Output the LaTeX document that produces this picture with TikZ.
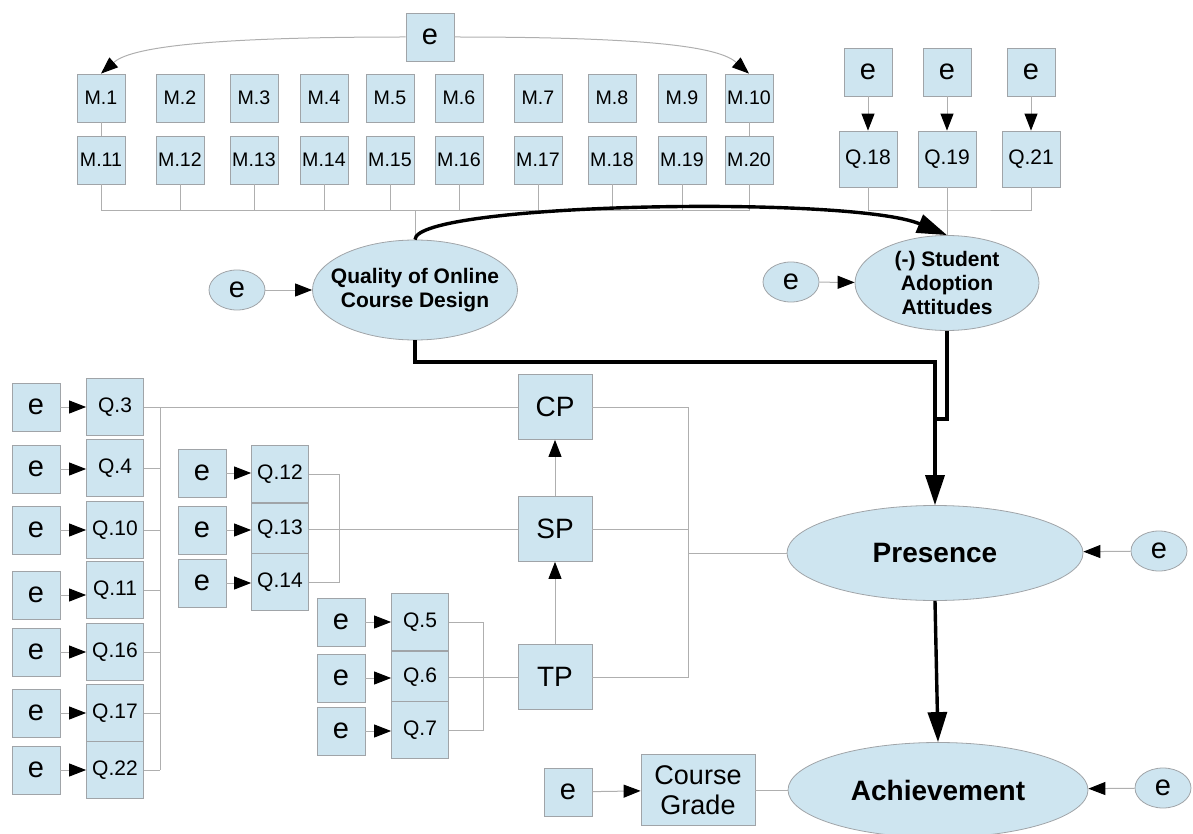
\documentclass[tikz,border=0pt]{standalone}
\usepackage{fontspec}
\setmainfont{Liberation Sans}
\usepackage{tikz}
\usetikzlibrary{shapes,arrows.meta,positioning,calc}

\definecolor{boxfill}{RGB}{206,229,240}
\definecolor{boxline}{RGB}{160,164,168}
\definecolor{linkgray}{RGB}{175,175,175}

\begin{document}
\begin{tikzpicture}[
        x=0.5pt, y=-0.5pt,
        % Block styles
        mvar/.style={
            rectangle,
            draw=boxline,
            fill=boxfill,
            inner sep=0pt,
            minimum width=24pt,
            minimum height=24pt,
            font=\fontsize{9.8}{11}\selectfont
        },
        qvar/.style={
            mvar,
            minimum width=28.5pt,
            minimum height=28.5pt,
            font=\fontsize{10.5}{12}\selectfont
        },
        err/.style={
            mvar,
            font=\fontsize{14.5}{16}\selectfont
        },
        errell/.style={
            ellipse,
            draw=boxline,
            fill=boxfill,
            inner sep=0pt,
            minimum width=28pt,
            minimum height=20pt,
            font=\fontsize{14.5}{16}\selectfont
        },
        factor/.style={
            mvar,
            minimum width=37pt,
            minimum height=32.5pt,
            font=\fontsize{14}{16}\selectfont
        },
        latent/.style={
            ellipse,
            draw=boxline,
            fill=boxfill,
            inner sep=0pt,
            font=\bfseries\fontsize{14}{16}\selectfont
        },
        lbl/.style={align=center, font=\bfseries\fontsize{10.5}{11.8}\selectfont},
        link/.style={draw=linkgray, line width=0.5pt},
        arr/.style={link, -{Triangle[length=8.5pt, width=6.5pt, color=black]}},
        bigline/.style={draw=black, line width=1.7pt},
        bigarr/.style={bigline, -{Triangle[length=15pt, width=9.5pt]}}
    ]
    \useasboundingbox (0,0) rectangle (1193,834);

    % Course design items
    \node[err] (etop) at (430,37) {e};
    \node[mvar] (m1) at (101,98) {M.1};
    \node[mvar] (m2) at (180,98) {M.2};
    \node[mvar] (m3) at (254,98) {M.3};
    \node[mvar] (m4) at (324,98) {M.4};
    \node[mvar] (m5) at (390,98) {M.5};
    \node[mvar] (m6) at (459,98) {M.6};
    \node[mvar] (m7) at (538,98) {M.7};
    \node[mvar] (m8) at (612,98) {M.8};
    \node[mvar] (m9) at (682,98) {M.9};
    \node[mvar] (m10) at (749,98) {M.10};
    \node[mvar] (m11) at (101,160) {M.11};
    \node[mvar] (m12) at (180,160) {M.12};
    \node[mvar] (m13) at (254,160) {M.13};
    \node[mvar] (m14) at (324,160) {M.14};
    \node[mvar] (m15) at (390,160) {M.15};
    \node[mvar] (m16) at (459,160) {M.16};
    \node[mvar] (m17) at (538,160) {M.17};
    \node[mvar] (m18) at (612,160) {M.18};
    \node[mvar] (m19) at (682,160) {M.19};
    \node[mvar] (m20) at (749,160) {M.20};
    \coordinate (mbus) at (415,211);

    % Attitude items
    \node[err] (e18) at (868,72) {e};
    \node[err] (e19) at (947,72) {e};
    \node[err] (e21) at (1031,72) {e};
    \node[qvar, minimum width=29pt, minimum height=28pt] (q18) at (868,159) {Q.18};
    \node[qvar, minimum width=29pt, minimum height=28pt] (q19) at (947,159) {Q.19};
    \node[qvar, minimum width=29pt, minimum height=28pt] (q21) at (1031,159) {Q.21};
    \coordinate (qbus) at (947,211);

    % Latent variables
    \node[latent, minimum width=102.5pt, minimum height=50pt,
        label={[lbl]center:Quality of Online\\Course Design}] (qocd) at (415,290) {};
    \node[errell] (eqocd) at (237,290) {e};
    \node[latent, minimum width=92pt, minimum height=47.5pt,
        label={[lbl]center:(-) Student\\Adoption\\Attitudes}] (sa) at (947,283) {};
    \node[errell] (esa) at (791,282) {e};
    \node[latent, minimum width=148pt, minimum height=47.5pt] (pres) at (935,553) {Presence};
    \node[errell] (epres) at (1159,551) {e};
    \node[latent, minimum width=150pt, minimum height=47.5pt] (ach) at (938,790) {Achievement};
    \node[errell] (each) at (1163,788) {e};

    % Presence factors
    \node[factor] (cp) at (555,407) {CP};
    \node[factor] (sp) at (555,529) {SP};
    \node[factor] (tp) at (555,677) {TP};

    % CP items
    \node[qvar] (q3) at (115,407) {Q.3};
    \node[qvar] (q4) at (115,468) {Q.4};
    \node[qvar] (q10) at (115,530) {Q.10};
    \node[qvar] (q11) at (115,590) {Q.11};
    \node[qvar] (q16) at (115,652) {Q.16};
    \node[qvar] (q17) at (115,713) {Q.17};
    \node[qvar] (q22) at (115,770) {Q.22};
    \node[err] (e3) at (36,407) {e};
    \node[err] (e4) at (36,469) {e};
    \node[err] (e10) at (36,530) {e};
    \node[err] (e11) at (36,595) {e};
    \node[err] (e16) at (36,652) {e};
    \node[err] (e17) at (36,713) {e};
    \node[err] (e22) at (36,770) {e};
    \coordinate (lbus) at (160,407);

    % SP items
    \node[qvar] (q12) at (280,474) {Q.12};
    \node[qvar, minimum height=26pt] (q13) at (280,529) {Q.13};
    \node[qvar] (q14) at (280,582) {Q.14};
    \node[err] (e12) at (202,473) {e};
    \node[err] (e13) at (202,530) {e};
    \node[err] (e14) at (202,583) {e};
    \coordinate (mbrk) at (339,529);

    % TP items
    \node[qvar] (q5) at (420,622) {Q.5};
    \node[qvar, minimum height=26pt] (q6) at (420,677) {Q.6};
    \node[qvar] (q7) at (420,730) {Q.7};
    \node[err] (e5) at (341,622) {e};
    \node[err] (e6) at (341,678) {e};
    \node[err] (e7) at (341,731) {e};
    \coordinate (tbrk) at (483,677);
    \coordinate (pbrk) at (688,553);

    % Achievement indicator
    \node[err] (ecg) at (568,792) {e};
    \node[factor, minimum width=57pt, minimum height=35.5pt,
        font=\fontsize{13.5}{14.8}\selectfont, align=center] (cg) at (698,790) {Course\\Grade};

    % Connections
    \draw[arr] (etop.west) .. controls (200,37) and (130,48) .. (m1.north);
    \draw[arr] (etop.east) .. controls (660,37) and (720,48) .. (m10.north);
    \draw[link] (m1) -- (m11);
    \draw[link] (m10) -- (m20);
    \draw[link] (m11.south |- mbus) -- (m20.south |- mbus);
    \foreach \m in {m11,m12,m13,m14,m15,m16,m17,m18,m19,m20}
        \draw[link] (\m.south) -- (\m.south |- mbus);
    \draw[link] (mbus) -- (qocd.north);

    \draw[arr] (e18) -- (q18);
    \draw[arr] (e19) -- (q19);
    \draw[arr] (e21) -- (q21);
    \draw[link] (q18.south) |- (qbus) -| (q21.south);
    \draw[link] (q19.south) -- (sa.north);

    \draw[bigarr] (qocd.north) .. controls (415,203) and (850,195) .. (sa.north);
    \draw[arr] (eqocd) -- (qocd);
    \draw[arr] (esa) -- (sa);
    \draw[bigline] (sa.south) |- (935,419);
    \draw[bigarr] (qocd.south) |- (935,362) -- (pres.north);
    \draw[bigarr] (pres.south) -- (ach.north);
    \draw[arr] (epres) -- (pres);
    \draw[arr] (each) -- (ach);

    \draw[arr] (tp) -- (sp);
    \draw[arr] (sp) -- (cp);
    \draw[link] (cp.east) -| (pbrk);
    \draw[link] (sp.east) -| (pbrk);
    \draw[link] (tp.east) -| (pbrk);
    \draw[link] (pbrk) -- (pres.west);

    \draw[link] (q3.east) -- (cp.west);
    \draw[link] (lbus) -- (lbus |- q22.east);
    \foreach \q in {q4,q10,q11,q16,q17,q22}
        \draw[link] (\q.east) -- (\q.east -| lbus);
    \foreach \i in {3,4,10,11,16,17,22}
        \draw[arr] (e\i) -- (e\i -| q\i.west);

    \draw[link] (q12.east) -| (mbrk);
    \draw[link] (q14.east) -| (mbrk);
    \draw[link] (q13.east) -- (sp.west);
    \foreach \i in {12,13,14}
        \draw[arr] (e\i) -- (e\i -| q\i.west);

    \draw[link] (q5.east) -| (tbrk);
    \draw[link] (q7.east) -| (tbrk);
    \draw[link] (q6.east) -- (tp.west);
    \foreach \i in {5,6,7}
        \draw[arr] (e\i) -- (e\i -| q\i.west);

    \draw[arr] (ecg) -- (cg);
    \draw[link] (cg) -- (ach);

\end{tikzpicture}
\end{document}
